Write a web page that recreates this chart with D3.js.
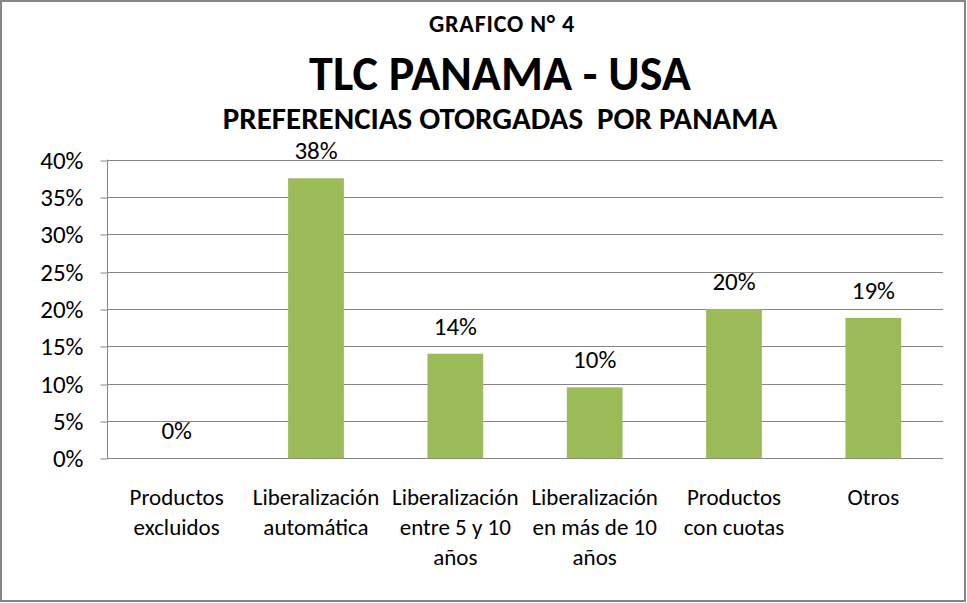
<!DOCTYPE html>
<html>
<head>
<meta charset="utf-8">
<script src="https://cdn.jsdelivr.net/npm/d3@7"></script>
<style>
  body { margin: 0; background: #fff; }
  text { font-family: Carlito, Calibri, "Liberation Sans Narrow", "Open Sans", sans-serif; white-space: pre; }
</style>
</head>
<body>
<div class="chart"></div>
<script>
// data
const categories = [
    ["Productos", "excluidos"],
    ["Liberalización", "automática"],
    ["Liberalización", "entre 5 y 10", "años"],
    ["Liberalización", "en más de 10", "años"],
    ["Productos", "con cuotas"],
    ["Otros"]
];
const values = [0, 0.375, 0.14, 0.095, 0.20, 0.188];
const valueLabels = ["0%", "38%", "14%", "10%", "20%", "19%"];
const yTicks = [0, 0.05, 0.10, 0.15, 0.20, 0.25, 0.30, 0.35, 0.40];

function main(){
    const W = 967, H = 603;
    const svg = d3.select(".chart")
                    .append("svg")
                    .attr("width", W)
                    .attr("height", H);

    // outer frame
    svg.append("rect")
        .attr("x", 1).attr("y", 1)
        .attr("width", 964).attr("height", 600)
        .attr("fill", "#fff")
        .attr("stroke", "#868686")
        .attr("stroke-width", 2);

    // titles
    svg.append("text")
        .attr("x", 502).attr("y", 32)
        .attr("text-anchor", "middle")
        .attr("font-weight", "bold")
        .attr("font-size", 24)
        .attr("letter-spacing", 0.8)
        .text("GRAFICO N° 4");
    svg.append("text")
        .attr("x", 500).attr("y", 90)
        .attr("text-anchor", "middle")
        .attr("font-weight", "bold")
        .attr("font-size", 48)
        .text("TLC PANAMA - USA");
    svg.append("text")
        .attr("x", 500).attr("y", 129)
        .attr("text-anchor", "middle")
        .attr("font-weight", "bold")
        .attr("font-size", 31)
        .text("PREFERENCIAS OTORGADAS  POR PANAMA");

    // scales
    const left = 107, right = 943, top = 159.6, bottom = 458.3;
    const xScale = d3.scaleBand()
                    .domain(d3.range(categories.length))
                    .range([left, right])
                    .paddingInner(0.6)
                    .paddingOuter(0.3);
    const yScale = d3.scaleLinear()
                    .domain([0, 0.4])
                    .range([bottom, top]);

    // grid lines
    svg.append("g")
        .selectAll("line")
        .data(yTicks.slice(1))
        .enter()
        .append("line")
        .attr("x1", left).attr("x2", right)
        .attr("y1", d => Math.round(yScale(d)) + 0.5)
        .attr("y2", d => Math.round(yScale(d)) + 0.5)
        .attr("stroke", "#868686")
        .attr("stroke-width", 1);

    // y axis
    const yAxis = d3.axisLeft(yScale)
                    .tickValues(yTicks)
                    .tickFormat(d3.format(".0%"))
                    .tickSize(7)
                    .tickPadding(17);
    const yG = svg.append("g")
        .attr("transform", `translate(${left + 0.5},0)`)
        .call(yAxis);
    yG.select(".domain").attr("stroke", "#868686").attr("d", `M0,${top}V${bottom}`);
    yG.selectAll(".tick line").attr("stroke", "#868686")
        .attr("transform", d => `translate(0,${Math.round(yScale(d)) + 0.5 - yScale(d)})`);
    yG.selectAll(".tick text")
        .attr("font-family", null)
        .attr("font-size", 25)
        .attr("fill", "#000")
        .attr("dy", "0.34em");

    // x axis line
    svg.append("line")
        .attr("x1", left).attr("x2", right)
        .attr("y1", Math.round(bottom) + 0.5).attr("y2", Math.round(bottom) + 0.5)
        .attr("stroke", "#868686");

    // bars
    svg.selectAll(".bar")
        .data(values)
        .enter()
        .append("rect")
        .attr("class", "bar")
        .attr("x", (d, i) => xScale(i))
        .attr("width", xScale.bandwidth())
        .attr("y", d => yScale(d))
        .attr("height", d => yScale(0) - yScale(d))
        .attr("fill", "#9bbb59");

    // value labels
    svg.selectAll(".vlabel")
        .data(values)
        .enter()
        .append("text")
        .attr("class", "vlabel")
        .attr("x", (d, i) => xScale(i) + xScale.bandwidth() / 2)
        .attr("y", d => yScale(d) - 19)
        .attr("text-anchor", "middle")
        .attr("font-size", 25)
        .attr("fill", "#000")
        .text((d, i) => valueLabels[i]);

    // category labels
    const catG = svg.selectAll(".cat")
        .data(categories)
        .enter()
        .append("text")
        .attr("class", "cat")
        .attr("text-anchor", "middle")
        .attr("font-size", 23)
        .attr("fill", "#000");
    catG.selectAll("tspan")
        .data((d, i) => d.map(s => ({s: s, i: i})))
        .enter()
        .append("tspan")
        .attr("x", d => xScale(d.i) + xScale.bandwidth() / 2)
        .attr("y", (d, j) => 505 + j * 30)
        .text(d => d.s);
}

main();
</script>
</body>
</html>
